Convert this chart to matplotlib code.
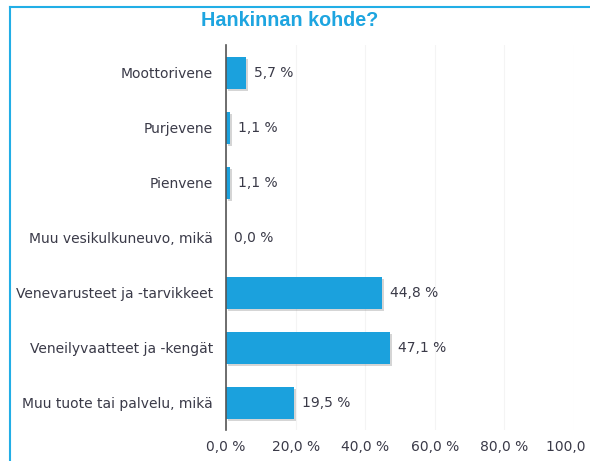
import matplotlib
matplotlib.use("Agg")
import matplotlib.pyplot as plt
import matplotlib.patheffects as pe
from matplotlib.lines import Line2D

categories = ["Moottorivene", "Purjevene", "Pienvene", "Muu vesikulkuneuvo, mikä",
              "Venevarusteet ja -tarvikkeet", "Veneilyvaatteet ja -kengät",
              "Muu tuote tai palvelu, mikä"]
values = [5.7, 1.1, 1.1, 0.0, 44.8, 47.1, 19.5]
xticks = [0, 20, 40, 60, 80, 100]
xticklabels = ["0,0 %", "20,0 %", "40,0 %", "60,0 %", "80,0 %", "100,0 %"]
title = "Hankinnan kohde?"

bar_color = "#1ba1dd"
text_color = "#3a3a48"

fig = plt.figure(figsize=(5.9, 4.61), dpi=100)
ax = fig.add_axes([0.383, 0.067, 0.59, 0.835])

ypos = list(range(len(categories)))
bars = ax.barh(ypos, values, height=0.58, color=bar_color, zorder=3)
for b in bars:
    b.set_path_effects([pe.SimplePatchShadow(offset=(1.5, -1.5), shadow_rgbFace="#888888", alpha=0.35), pe.Normal()])

ax.set_xlim(0, 100)
ax.set_ylim(len(categories) - 0.5, -0.5)
ax.set_yticks(ypos)
ax.set_yticklabels(categories, fontsize=10, color=text_color, family="DejaVu Sans")
ax.set_xticks(xticks)
ax.set_xticklabels(xticklabels, fontsize=10, color=text_color, family="DejaVu Sans")
ax.tick_params(axis="both", length=0)
ax.tick_params(axis="y", pad=9.5)
ax.tick_params(axis="x", pad=7)

for s in ["top", "right", "bottom"]:
    ax.spines[s].set_visible(False)
ax.spines["left"].set_color("#555555")
ax.spines["left"].set_linewidth(1.2)
ax.spines["left"].set_zorder(4)

ax.grid(axis="x", color="#f4f4f4", linewidth=0.8, zorder=0)
ax.set_axisbelow(True)

for y, v in zip(ypos, values):
    ax.annotate(f"{v:.1f} %".replace(".", ","), xy=(v, y), xytext=(6, 0),
                textcoords="offset points", va="center", ha="left",
                fontsize=10, color=text_color, family="DejaVu Sans")

fig.text(290/590, 0.955, title, ha="center", va="center", fontsize=14.2,
         fontweight="bold", color="#1ea5e0", family="Liberation Sans")

# frame border (left and top)
fig.add_artist(Line2D([10/590, 10/590], [0, 1 - 7/461], transform=fig.transFigure,
                      color="#22aee6", linewidth=1.5))
fig.add_artist(Line2D([10/590, 1], [1 - 7/461, 1 - 7/461], transform=fig.transFigure,
                      color="#22aee6", linewidth=1.5))

fig.savefig("out.png", dpi=100)
